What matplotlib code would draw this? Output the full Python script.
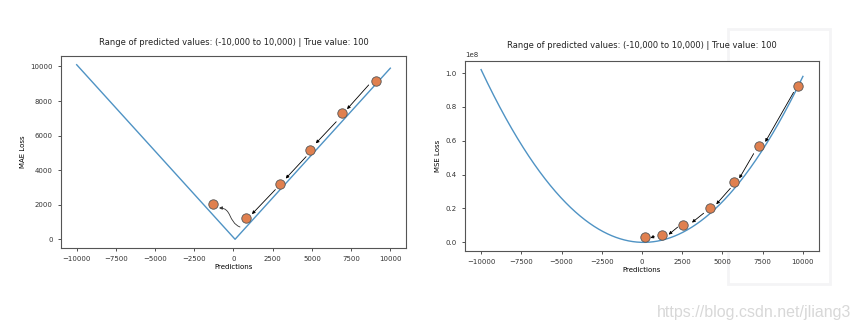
import numpy as np
import matplotlib
matplotlib.use("Agg")
import matplotlib.pyplot as plt
from matplotlib.patches import Rectangle, FancyArrowPatch
from matplotlib.path import Path

TRUE_VALUE = 100
TITLE = "Range of predicted values: (-10,000 to 10,000) | True value: 100"

# MAE steps
mae_x = [9100, 6890, 4910, 2970, 790, -1320]
mae_y = [9130, 7280, 5165, 3185, 1205, 2040]
mae_arrows = [
    ((8620, 8930), (7240, 7530)),
    ((6550, 6800), (5250, 5550)),
    ((4630, 4780), (3330, 3515)),
    ((2670, 2875), (1175, 1455)),
]
# overshoot arrow: S-shaped bezier (start, two control points, end)
mae_curve_arrow = [(414, 710), (-350, 1000), (-100, 1810), (-925, 1810)]

# MSE steps (units of 1e8)
mse_x = [9710, 7250, 5735, 4245, 2565, 1240, 165]
mse_y = [0.922, 0.569, 0.354, 0.202, 0.104, 0.045, 0.029]
mse_arrows = [
    ((9420, 0.886), (7660, 0.593)),
    ((6940, 0.524), (6045, 0.378)),
    ((5490, 0.319), (4615, 0.225)),
    ((3830, 0.172), (3105, 0.117)),
    ((2215, 0.090), (1655, 0.046)),
    ((765, 0.035), (520, 0.026)),
]

LINE = "#4f93c4"
DOT = "#e0804f"
FS = 5.0

plt.rcParams.update({
    "font.size": FS,
    "xtick.labelsize": FS,
    "ytick.labelsize": FS,
    "axes.edgecolor": "#555555",
    "axes.linewidth": 0.8,
    "xtick.major.size": 2.5,
    "ytick.major.size": 2.5,
    "xtick.major.width": 0.6,
    "ytick.major.width": 0.6,
    "xtick.color": "#333333",
    "ytick.color": "#333333",
})

fig = plt.figure(figsize=(8.6, 3.32), dpi=100)

# faint frame behind the right chart
fig.patches.append(Rectangle((728 / 860, 1 - 284 / 332), 102 / 860, 255 / 332,
                             transform=fig.transFigure, fc="white",
                             ec="#f4f4f6", lw=2.0, zorder=-5))

preds = np.linspace(-10000, 10000, 1001)
arrow_kw = dict(arrowstyle="-|>", color="black", lw=0.6, mutation_scale=4.5,
                shrinkA=0, shrinkB=0)

ax1 = fig.add_axes([61 / 860, 1 - 248 / 332, 345 / 860, 192 / 332])
ax1.plot(preds, np.abs(preds - TRUE_VALUE), color=LINE, lw=1.0)
ax1.scatter(mae_x, mae_y, s=46, color=DOT, edgecolor="#555555", linewidth=0.6, zorder=3)
for (x0, y0), (x1, y1) in mae_arrows:
    ax1.annotate("", xy=(x1, y1), xytext=(x0, y0), arrowprops=arrow_kw)
curve = Path(mae_curve_arrow, [Path.MOVETO, Path.CURVE4, Path.CURVE4, Path.CURVE4])
ax1.add_patch(FancyArrowPatch(path=curve, arrowstyle="-|>", color="#333333",
                              lw=0.6, mutation_scale=4.5))
ax1.set_xticks([-10000, -7500, -5000, -2500, 0, 2500, 5000, 7500, 10000])
ax1.set_yticks([0, 2000, 4000, 6000, 8000, 10000])
ax1.set_title(TITLE, fontsize=6.0, pad=8, color="#222222")
ax1.set_xlabel("Predictions", labelpad=1.5)
ax1.set_ylabel("MAE Loss", labelpad=3)

ax2 = fig.add_axes([465 / 860, 1 - 251 / 332, 354 / 860, 190 / 332])
ax2.plot(preds, (preds - TRUE_VALUE) ** 2, color=LINE, lw=1.0)
ax2.scatter(mse_x, np.array(mse_y) * 1e8, s=46, color=DOT, edgecolor="#555555",
            linewidth=0.6, zorder=3)
for (x0, y0), (x1, y1) in mse_arrows:
    ax2.annotate("", xy=(x1, y1 * 1e8), xytext=(x0, y0 * 1e8), arrowprops=arrow_kw)
ax2.set_xticks([-10000, -7500, -5000, -2500, 0, 2500, 5000, 7500, 10000])
ax2.set_yticks(np.array([0.0, 0.2, 0.4, 0.6, 0.8, 1.0]) * 1e8)
ax2.yaxis.get_offset_text().set_fontsize(FS)
ax2.set_title(TITLE, fontsize=6.0, pad=9, color="#222222")
ax2.set_xlabel("Predictions", labelpad=1.5)
ax2.set_ylabel("MSE Loss", labelpad=3)

fig.text(851 / 860, 1 - 313 / 332, "https://blog.csdn.net/jliang3", ha="right", va="center",
         fontsize=11.5, color="#d8d8d8", family="Liberation Sans")

fig.savefig("out.png", dpi=100)
